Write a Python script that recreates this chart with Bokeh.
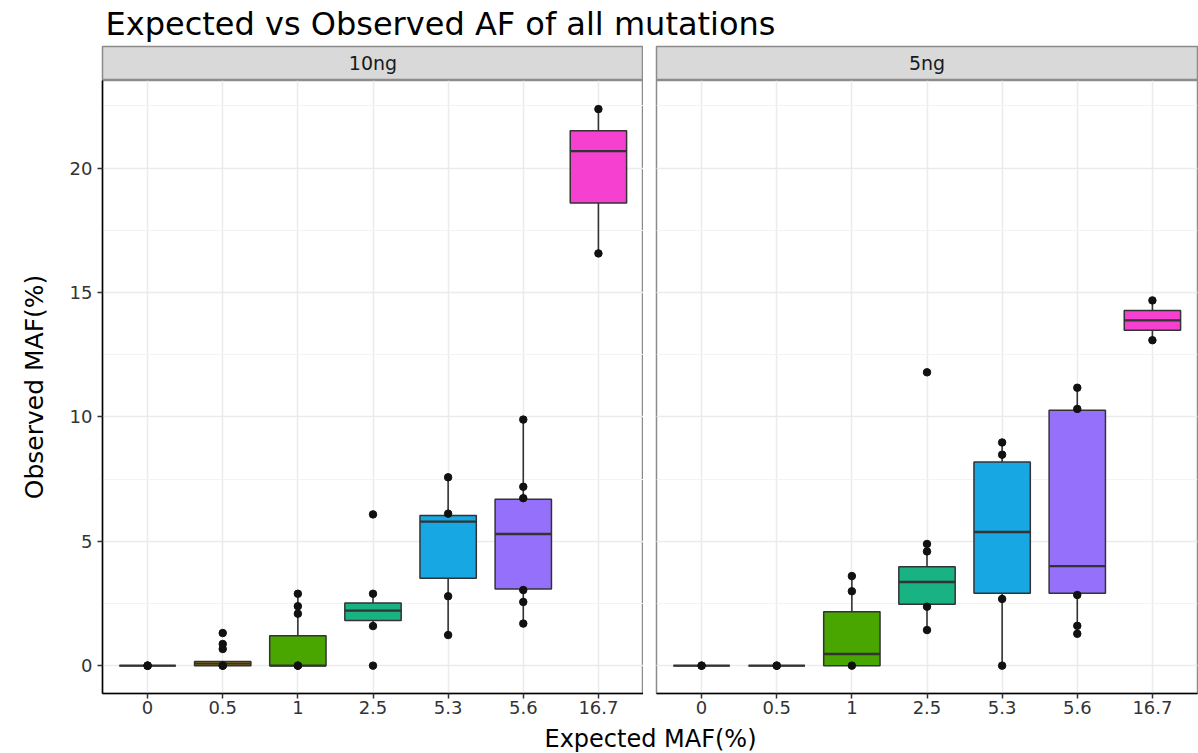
from bokeh.plotting import figure
from bokeh.layouts import column, row
from bokeh.models import FactorRange, Range1d, SingleIntervalTicker, ColumnDataSource
from bokeh.core.properties import value
from bokeh.embed import file_html
from bokeh.resources import INLINE

# ---------------- data ----------------
title_text = "Expected vs Observed AF of all mutations"
x_label = "Expected MAF(%)"
y_label = "Observed MAF(%)"
panel_names = ["10ng", "5ng"]
categories = ["0", "0.5", "1", "2.5", "5.3", "5.6", "16.7"]
fill_colors = ["#F8766D", "#C49A00", "#49A600", "#19B283", "#17A8E3", "#9570FA", "#F640CF"]

# 10ng panel box statistics
q1_10ng = [0, 0, 0, 1.81, 3.51, 3.08, 18.60]
median_10ng = [0, 0.08, 0, 2.21, 5.79, 5.29, 20.68]
q3_10ng = [0, 0.17, 1.20, 2.52, 6.03, 6.69, 21.50]
whisker_lo_10ng = [0, 0, 0, 1.59, 1.23, 1.69, 16.57]
whisker_hi_10ng = [0, 0.17, 2.89, 2.89, 7.57, 9.89, 22.37]
points_10ng = {
    "0": [0, 0, 0],
    "0.5": [0, 0, 0.67, 0.87, 1.31],
    "1": [0, 0, 2.09, 2.39, 2.89],
    "2.5": [0, 1.59, 2.89, 6.08],
    "5.3": [1.23, 2.79, 6.11, 7.57],
    "5.6": [1.69, 2.56, 3.04, 6.73, 7.19, 9.89],
    "16.7": [16.57, 22.37],
}

# 5ng panel box statistics
q1_5ng = [0, 0, 0, 2.47, 2.91, 2.91, 13.48]
median_5ng = [0, 0, 0.47, 3.36, 5.37, 4.00, 13.88]
q3_5ng = [0, 0, 2.17, 3.97, 8.19, 10.27, 14.27]
whisker_lo_5ng = [0, 0, 0, 1.43, 0, 1.28, 13.08]
whisker_hi_5ng = [0, 0, 3.60, 4.89, 8.97, 11.17, 14.68]
points_5ng = {
    "0": [0, 0],
    "0.5": [0, 0],
    "1": [0, 2.99, 3.60],
    "2.5": [1.43, 2.37, 4.59, 4.89, 11.79],
    "5.3": [0, 2.68, 8.48, 8.97],
    "5.6": [1.28, 1.60, 2.84, 10.32, 11.17],
    "16.7": [13.08, 14.68],
}

y_ticks_interval = 5

# ---------------- style ----------------
FONT = "DejaVu Sans"
TXT = "#333333"
W = 1198


def blank_fig(width, height, **kw):
    f = figure(width=width, height=height, output_backend="svg", toolbar_location=None,
               title=None, x_axis_location=None, y_axis_location=None, **kw)
    f.xgrid.grid_line_color = None
    f.ygrid.grid_line_color = None
    return f


# title
title_fig = blank_fig(W, 45, x_range=Range1d(0, W), y_range=Range1d(0, 45), min_border=0,
                      outline_line_color=None)
title_fig.text(x=[105], y=[22], text=[title_text], text_font=value(FONT), text_font_size="32px",
               text_baseline="middle", text_align="left", text_color="#000000")


def make_strip(label, width, left, right):
    s = blank_fig(width, 35, x_range=Range1d(0, 1), y_range=Range1d(0, 1),
                  min_border_left=left, min_border_right=right, min_border_top=1, min_border_bottom=1,
                  background_fill_color="#D9D9D9", outline_line_color="#8C8C8C", outline_line_width=1.5)
    s.text(x=[0.5], y=[0.5], text=[label], text_font=value(FONT), text_font_size="19px",
           text_align="center", text_baseline="middle", text_color="#1A1A1A")
    return s


y_range = Range1d(-1.12, 23.52)


def make_panel(width, left, right, show_y, q1, med, q3, lo, hi, pts):
    p = figure(width=width, height=643, output_backend="svg", toolbar_location=None,
               x_range=FactorRange(factors=categories, range_padding=0.1, range_padding_units="absolute"),
               y_range=y_range, y_axis_location="left" if show_y else None,
               min_border_left=left, min_border_right=right, min_border_top=0, min_border_bottom=30,
               background_fill_color="white", border_fill_color="white",
               outline_line_color="#8C8C8C", outline_line_width=1.5)
    ticker = SingleIntervalTicker(interval=y_ticks_interval, num_minor_ticks=2)
    p.ygrid.ticker = ticker
    p.xgrid.grid_line_color = "#EBEBEB"
    p.xgrid.grid_line_width = 1.5
    p.ygrid.grid_line_color = "#EBEBEB"
    p.ygrid.grid_line_width = 1.5
    p.ygrid.minor_grid_line_color = "#F3F3F3"
    p.ygrid.minor_grid_line_width = 1

    p.xaxis.axis_line_color = "#000000"
    p.xaxis.axis_line_width = 1.5
    p.xaxis.major_tick_line_color = "#333333"
    p.xaxis.major_tick_line_width = 1.5
    p.xaxis.major_tick_out = 5
    p.xaxis.major_tick_in = 0
    p.xaxis.major_label_standoff = 2
    p.xaxis.major_label_text_font = FONT
    p.xaxis.major_label_text_font_size = "18px"
    p.xaxis.major_label_text_color = TXT
    if show_y:
        p.yaxis.ticker = ticker
        p.yaxis.axis_line_color = "#000000"
        p.yaxis.axis_line_width = 1.5
        p.yaxis.major_tick_line_color = "#333333"
        p.yaxis.major_tick_line_width = 1.5
        p.yaxis.major_tick_out = 5
        p.yaxis.major_tick_in = 0
        p.yaxis.minor_tick_line_color = None
        p.yaxis.major_label_standoff = 5
        p.yaxis.major_label_text_font = FONT
        p.yaxis.major_label_text_font_size = "18px"
        p.yaxis.major_label_text_color = TXT
        p.yaxis.axis_label = y_label
        p.yaxis.axis_label_text_font = FONT
        p.yaxis.axis_label_text_font_size = "25px"
        p.yaxis.axis_label_text_font_style = "normal"
        p.yaxis.axis_label_text_color = "#000000"
        p.yaxis.axis_label_standoff = 18

    src = ColumnDataSource(dict(cat=categories, q1=q1, med=med, q3=q3, lo=lo, hi=hi, color=fill_colors))
    p.segment(x0="cat", y0="lo", x1="cat", y1="hi", source=src, line_color="#333333", line_width=1.6)
    p.vbar(x="cat", width=0.75, bottom="q1", top="q3", source=src, fill_color="color",
           line_color="#333333", line_width=1.5)
    p.vbar(x="cat", width=0.75, bottom="med", top="med", source=src, fill_color=None,
           line_color="#333333", line_width=2.4)
    px = [c for c in categories for _ in pts[c]]
    py = [v for c in categories for v in pts[c]]
    p.scatter(x=px, y=py, size=7.5, fill_color="#111111", line_color="#111111")
    return p


LEFT_W, RIGHT_W = 643, W - 643
strip_left = make_strip(panel_names[0], LEFT_W, 102, 0)
strip_right = make_strip(panel_names[1], RIGHT_W, 13, 1)

p_left = make_panel(LEFT_W, 102, 0, True, q1_10ng, median_10ng, q3_10ng,
                    whisker_lo_10ng, whisker_hi_10ng, points_10ng)
p_right = make_panel(RIGHT_W, 13, 1, False, q1_5ng, median_5ng, q3_5ng,
                     whisker_lo_5ng, whisker_hi_5ng, points_5ng)

xlabel_fig = blank_fig(W, 30, x_range=Range1d(0, W), y_range=Range1d(0, 30), min_border=0,
                       outline_line_color=None)
xlabel_fig.text(x=[650], y=[15], text=[x_label], text_font=value(FONT), text_font_size="24px",
                text_baseline="middle", text_align="center", text_color="#000000")

layout = column(title_fig, row(strip_left, strip_right), row(p_left, p_right), xlabel_fig)

open("out.html", "w").write(file_html(layout, INLINE))
